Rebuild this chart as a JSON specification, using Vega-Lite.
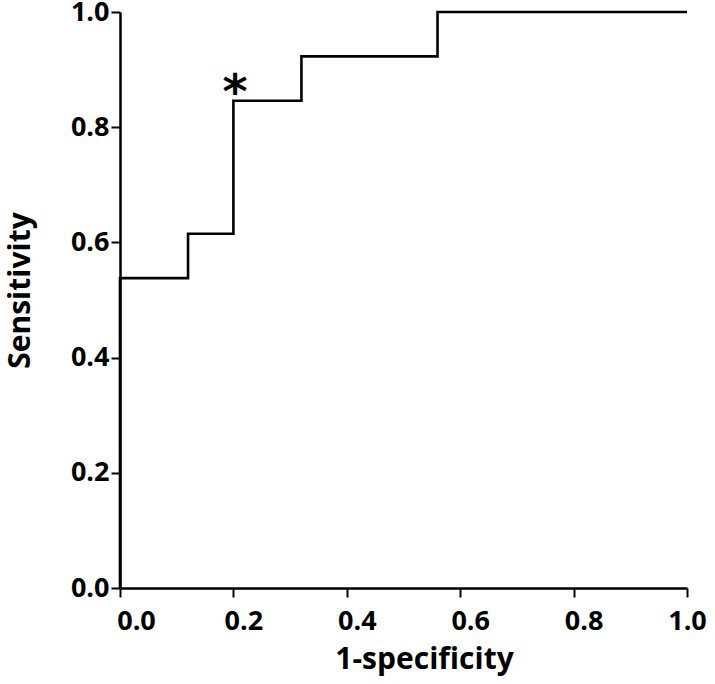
{
  "$schema": "https://vega.github.io/schema/vega-lite/v6.json",
  "autosize": "none",
  "width": 567,
  "height": 576,
  "padding": {"left": 120, "top": 12, "right": 28, "bottom": 96},
  "background": "white",
  "config": {
    "view": {"stroke": null},
    "font": "Open Sans",
    "axis": {
      "grid": false,
      "domainColor": "black",
      "domainWidth": 2.5,
      "tickColor": "black",
      "tickWidth": 2,
      "tickSize": 9,
      "labelFont": "Open Sans",
      "labelFontSize": 27,
      "labelFontWeight": "bold",
      "labelColor": "black",
      "titleFont": "Open Sans",
      "titleFontSize": 30,
      "titleFontWeight": "bold",
      "titleColor": "black"
    }
  },
  "datasets": {
    "roc": [
      {"fpr": 0, "tpr": 0},
      {"fpr": 0, "tpr": 0.538},
      {"fpr": 0.12, "tpr": 0.615},
      {"fpr": 0.2, "tpr": 0.846},
      {"fpr": 0.32, "tpr": 0.923},
      {"fpr": 0.56, "tpr": 1.0},
      {"fpr": 1.0, "tpr": 1.0}
    ],
    "mark": [
      {"fpr": 0.203, "tpr": 0.846, "label": "*"}
    ]
  },
  "layer": [
    {
      "data": {"name": "roc"},
      "mark": {"type": "line", "interpolate": "step-after", "color": "black", "strokeWidth": 2.6},
      "encoding": {
        "x": {
          "field": "fpr", "type": "quantitative",
          "scale": {"domain": [0, 1], "nice": false, "zero": false},
          "axis": {
            "title": "1-specificity",
            "values": [0, 0.2, 0.4, 0.6, 0.8, 1.0],
            "format": ".1f",
            "labelPadding": 11,
            "titlePadding": 10,
            "titleX": 304,
            "titleAlign": "center",
            "labelFlush": false,
            "labelOffset": {"condition": [{"test": "datum.value == 0", "value": 16}, {"test": "datum.value == 1", "value": 0}], "value": 10}
          }
        },
        "y": {
          "field": "tpr", "type": "quantitative",
          "scale": {"domain": [0, 1], "nice": false},
          "axis": {"title": "Sensitivity", "values": [0, 0.2, 0.4, 0.6, 0.8, 1.0], "format": ".1f", "labelPadding": 2, "titlePadding": 35, "titleY": 278, "titleAlign": "center", "labelFlush": false}
        }
      }
    },
    {
      "data": {"name": "mark"},
      "mark": {"type": "text", "fontSize": 48, "fontWeight": "bold", "color": "black", "baseline": "alphabetic", "align": "center", "dy": 7, "font": "DejaVu Sans"},
      "encoding": {
        "x": {"field": "fpr", "type": "quantitative"},
        "y": {"field": "tpr", "type": "quantitative"},
        "text": {"field": "label"}
      }
    }
  ]
}
